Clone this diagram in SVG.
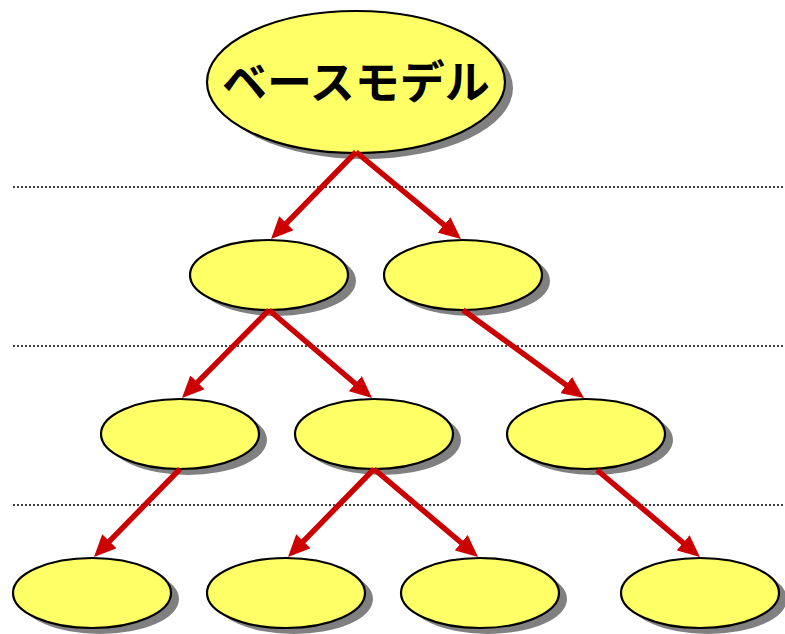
<svg xmlns="http://www.w3.org/2000/svg" width="785" height="634" viewBox="0 0 785 634">
<style>
.sh{fill:#808080;stroke:none}
.nd{fill:#FFFF66;stroke:#000;stroke-width:2.2}
.dot{stroke:#000;stroke-width:1.5;stroke-dasharray:2 2;fill:none}
.arr{stroke:#CC0000;stroke-width:5.5;fill:none;marker-end:url(#ah)}
.lbl{font-family:"Noto Sans CJK JP","Noto Sans",sans-serif;font-weight:bold;font-size:45px;fill:#000;text-anchor:middle}
</style>
<defs>
<marker id="ah" markerUnits="userSpaceOnUse" viewBox="0 0 22 20" markerWidth="22" markerHeight="20" refX="12" refY="10" orient="auto">
<path d="M0,0 L22,10 L0,20 z" fill="#CC0000"/>
</marker>
</defs>
<rect width="785" height="634" fill="#fff"/>
<g id="separators">
<line class="dot" x1="13" y1="187" x2="785" y2="187"/>
<line class="dot" x1="13" y1="346" x2="785" y2="346"/>
<line class="dot" x1="13" y1="505" x2="785" y2="505"/>
</g>
<g id="base">
<ellipse class="sh" cx="364" cy="88" rx="149" ry="71"/>
<ellipse class="nd" cx="356" cy="82" rx="149" ry="71"/>
<text class="lbl" x="356" y="99">ベースモデル</text>
</g>
<g id="n1a"><ellipse class="sh" cx="277" cy="281" rx="79" ry="35"/><ellipse class="nd" cx="269" cy="275" rx="79" ry="35"/></g>
<g id="n1b"><ellipse class="sh" cx="471" cy="281" rx="79" ry="35"/><ellipse class="nd" cx="463" cy="275" rx="79" ry="35"/></g>
<g id="n2a"><ellipse class="sh" cx="188" cy="440" rx="79" ry="35"/><ellipse class="nd" cx="180" cy="434" rx="79" ry="35"/></g>
<g id="n2b"><ellipse class="sh" cx="382" cy="440" rx="79" ry="35"/><ellipse class="nd" cx="374" cy="434" rx="79" ry="35"/></g>
<g id="n2c"><ellipse class="sh" cx="594" cy="440" rx="79" ry="35"/><ellipse class="nd" cx="586" cy="434" rx="79" ry="35"/></g>
<g id="n3a"><ellipse class="sh" cx="100" cy="599" rx="79" ry="35"/><ellipse class="nd" cx="92" cy="593" rx="79" ry="35"/></g>
<g id="n3b"><ellipse class="sh" cx="294" cy="599" rx="79" ry="35"/><ellipse class="nd" cx="286" cy="593" rx="79" ry="35"/></g>
<g id="n3c"><ellipse class="sh" cx="488" cy="599" rx="79" ry="35"/><ellipse class="nd" cx="480" cy="593" rx="79" ry="35"/></g>
<g id="n3d"><ellipse class="sh" cx="708" cy="599" rx="79" ry="35"/><ellipse class="nd" cx="700" cy="593" rx="79" ry="35"/></g>
<g id="connectors">
<line class="arr" x1="356" y1="152" x2="278" y2="231.8"/>
<line class="arr" x1="356" y1="152" x2="453.3" y2="232.6"/>
<line class="arr" x1="269" y1="310" x2="189" y2="390.9"/>
<line class="arr" x1="269" y1="310" x2="364.4" y2="391.5"/>
<line class="arr" x1="463" y1="310" x2="575.9" y2="392.1"/>
<line class="arr" x1="180" y1="469" x2="101" y2="549.8"/>
<line class="arr" x1="374" y1="469" x2="295" y2="549.8"/>
<line class="arr" x1="374" y1="469" x2="470.4" y2="550.5"/>
<line class="arr" x1="597" y1="470" x2="692.3" y2="550.6"/>
</g>
</svg>
